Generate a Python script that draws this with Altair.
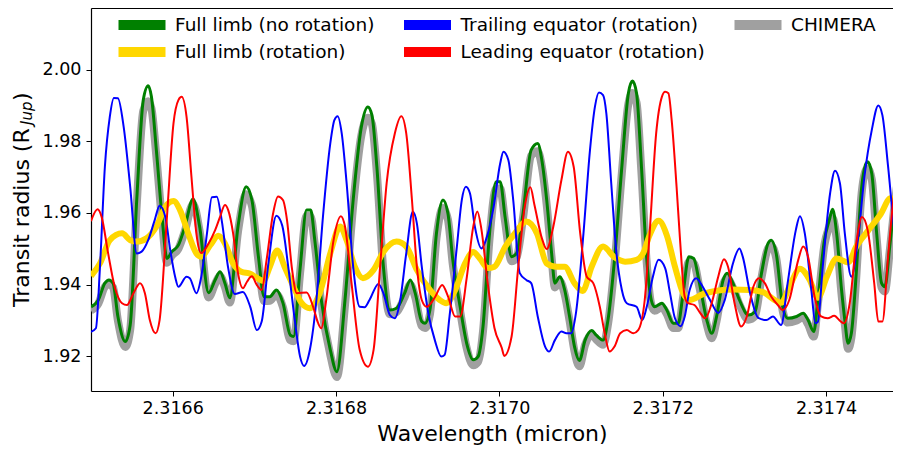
import altair as alt
import pandas as pd

# ---- data ----
green_wl = [2.316500, 2.316509, 2.316517, 2.316522, 2.316527, 2.316533, 2.316542, 2.316548, 2.316556, 2.316564,
            2.316570, 2.316574, 2.316580, 2.316587, 2.316593, 2.316599, 2.316607, 2.316615, 2.316625, 2.316633,
            2.316644, 2.316652, 2.316658, 2.316664, 2.316670, 2.316680, 2.316690, 2.316697, 2.316705, 2.316712,
            2.316719, 2.316727, 2.316735, 2.316744, 2.316748, 2.316756, 2.316764, 2.316769, 2.316774, 2.316782,
            2.316793, 2.316801, 2.316811, 2.316821, 2.316831, 2.316839, 2.316844, 2.316850, 2.316858, 2.316866,
            2.316874, 2.316884, 2.316891, 2.316897, 2.316905, 2.316909, 2.316915, 2.316923, 2.316931, 2.316937,
            2.316943, 2.316952, 2.316960, 2.316968, 2.316974, 2.316980, 2.316988, 2.316996, 2.317001, 2.317007,
            2.317015, 2.317021, 2.317029, 2.317039, 2.317047, 2.317052, 2.317058, 2.317064, 2.317068, 2.317074,
            2.317080, 2.317086, 2.317092, 2.317098, 2.317105, 2.317113, 2.317119, 2.317127, 2.317133, 2.317141,
            2.317150, 2.317158, 2.317163, 2.317168, 2.317174, 2.317180, 2.317186, 2.317190, 2.317199, 2.317205,
            2.317213, 2.317219, 2.317225, 2.317232, 2.317238, 2.317245, 2.317254, 2.317260, 2.317266, 2.317274,
            2.317279, 2.317286, 2.317294, 2.317305, 2.317313, 2.317321, 2.317329, 2.317333, 2.317339, 2.317347,
            2.317353, 2.317364, 2.317372, 2.317378, 2.317385, 2.317390, 2.317398, 2.317404, 2.317408, 2.317413,
            2.317419, 2.317423, 2.317427, 2.317431, 2.317437, 2.317443, 2.317449, 2.317451, 2.317456, 2.317462,
            2.317468, 2.317472, 2.317478, 2.317484, 2.317491]
green_r = [1.9338, 1.9357, 1.9404, 1.9413, 1.9404, 1.9310, 1.9241, 1.9287, 1.9636, 1.9915,
           1.9955, 1.9924, 1.9776, 1.9589, 1.9473, 1.9492, 1.9510, 1.9562, 1.9639, 1.9562,
           1.9377, 1.9413, 1.9436, 1.9404, 1.9363, 1.9562, 1.9673, 1.9636, 1.9478, 1.9366,
           1.9366, 1.9385, 1.9349, 1.9259, 1.9255, 1.9444, 1.9608, 1.9608, 1.9524, 1.9357,
           1.9218, 1.9157, 1.9357, 1.9636, 1.9840, 1.9896, 1.9873, 1.9729, 1.9450, 1.9329,
           1.9334, 1.9376, 1.9413, 1.9376, 1.9297, 1.9292, 1.9329, 1.9543, 1.9636, 1.9599,
           1.9469, 1.9338, 1.9236, 1.9190, 1.9199, 1.9283, 1.9543, 1.9687, 1.9687, 1.9589,
           1.9478, 1.9487, 1.9599, 1.9776, 1.9794, 1.9748, 1.9636, 1.9487, 1.9404, 1.9422,
           1.9385, 1.9311, 1.9227, 1.9188, 1.9245, 1.9272, 1.9258, 1.9245, 1.9301, 1.9469,
           1.9729, 1.9934, 1.9968, 1.9934, 1.9729, 1.9487, 1.9357, 1.9338, 1.9348, 1.9329,
           1.9292, 1.9292, 1.9376, 1.9478, 1.9473, 1.9404, 1.9301, 1.9264, 1.9311, 1.9413,
           1.9432, 1.9404, 1.9357, 1.9315, 1.9324, 1.9432, 1.9515, 1.9524, 1.9487, 1.9338,
           1.9306, 1.9311, 1.9320, 1.9301, 1.9269, 1.9357, 1.9524, 1.9580, 1.9610, 1.9543,
           1.9385, 1.9301, 1.9236, 1.9264, 1.9432, 1.9655, 1.9738, 1.9743, 1.9710, 1.9543,
           1.9404, 1.9394, 1.9506, 1.9636, 1.9757]
chimera_r = [1.9328, 1.9347, 1.9394, 1.9401, 1.9392, 1.9299, 1.9226, 1.9274, 1.9622, 1.9885,
             1.9912, 1.9892, 1.9758, 1.9577, 1.9461, 1.9481, 1.9500, 1.9550, 1.9625, 1.9550,
             1.9364, 1.9402, 1.9424, 1.9393, 1.9350, 1.9548, 1.9652, 1.9620, 1.9466, 1.9354,
             1.9355, 1.9373, 1.9337, 1.9245, 1.9242, 1.9432, 1.9592, 1.9590, 1.9512, 1.9345,
             1.9204, 1.9142, 1.9343, 1.9620, 1.9816, 1.9866, 1.9848, 1.9712, 1.9438, 1.9317,
             1.9323, 1.9365, 1.9400, 1.9364, 1.9284, 1.9279, 1.9317, 1.9529, 1.9614, 1.9582,
             1.9456, 1.9326, 1.9223, 1.9175, 1.9185, 1.9270, 1.9529, 1.9668, 1.9668, 1.9576,
             1.9465, 1.9475, 1.9586, 1.9760, 1.9772, 1.9730, 1.9622, 1.9475, 1.9392, 1.9410,
             1.9373, 1.9299, 1.9214, 1.9172, 1.9232, 1.9261, 1.9246, 1.9232, 1.9289, 1.9456,
             1.9712, 1.9905, 1.9935, 1.9908, 1.9712, 1.9475, 1.9345, 1.9327, 1.9337, 1.9318,
             1.9279, 1.9279, 1.9364, 1.9463, 1.9460, 1.9392, 1.9289, 1.9250, 1.9299, 1.9401,
             1.9418, 1.9392, 1.9345, 1.9302, 1.9312, 1.9420, 1.9501, 1.9508, 1.9474, 1.9326,
             1.9294, 1.9300, 1.9309, 1.9289, 1.9255, 1.9345, 1.9511, 1.9563, 1.9585, 1.9527,
             1.9373, 1.9289, 1.9221, 1.9251, 1.9420, 1.9641, 1.9721, 1.9724, 1.9694, 1.9530,
             1.9392, 1.9381, 1.9494, 1.9623, 1.9743]

gold_wl = [2.316500, 2.316511, 2.316523, 2.316538, 2.316548, 2.316556, 2.316568, 2.316580, 2.316591, 2.316601,
           2.316609, 2.316619, 2.316629, 2.316635, 2.316646, 2.316656, 2.316664, 2.316674, 2.316684, 2.316695,
           2.316705, 2.316711, 2.316719, 2.316728, 2.316737, 2.316748, 2.316758, 2.316768, 2.316780, 2.316793,
           2.316805, 2.316813, 2.316823, 2.316833, 2.316846, 2.316858, 2.316874, 2.316886, 2.316899, 2.316915,
           2.316927, 2.316935, 2.316946, 2.316958, 2.316968, 2.316976, 2.316986, 2.316994, 2.317007, 2.317019,
           2.317033, 2.317046, 2.317058, 2.317070, 2.317080, 2.317092, 2.317102, 2.317113, 2.317127, 2.317141,
           2.317154, 2.317168, 2.317176, 2.317184, 2.317195, 2.317205, 2.317215, 2.317225, 2.317233, 2.317250,
           2.317266, 2.317286, 2.317307, 2.317323, 2.317337, 2.317345, 2.317356, 2.317368, 2.317380, 2.317390,
           2.317401, 2.317413, 2.317427, 2.317437, 2.317452, 2.317467, 2.317479, 2.317491]
gold_r = [1.9424, 1.9459, 1.9524, 1.9543, 1.9524, 1.9520, 1.9529, 1.9562, 1.9617, 1.9633,
          1.9608, 1.9543, 1.9487, 1.9478, 1.9510, 1.9536, 1.9515, 1.9459, 1.9436, 1.9430,
          1.9416, 1.9410, 1.9450, 1.9495, 1.9450, 1.9394, 1.9348, 1.9334, 1.9376, 1.9487,
          1.9562, 1.9524, 1.9450, 1.9418, 1.9441, 1.9491, 1.9520, 1.9506, 1.9441, 1.9385,
          1.9357, 1.9348, 1.9385, 1.9459, 1.9491, 1.9473, 1.9446, 1.9450, 1.9505, 1.9543,
          1.9576, 1.9543, 1.9459, 1.9450, 1.9450, 1.9404, 1.9382, 1.9450, 1.9506, 1.9476,
          1.9464, 1.9469, 1.9487, 1.9538, 1.9578, 1.9538, 1.9450, 1.9376, 1.9357, 1.9374,
          1.9383, 1.9386, 1.9385, 1.9379, 1.9357, 1.9349, 1.9399, 1.9444, 1.9413, 1.9363,
          1.9422, 1.9473, 1.9462, 1.9506, 1.9552, 1.9597, 1.9641, 1.9627]

blue_wl = [2.316500, 2.316506, 2.316511, 2.316517, 2.316523, 2.316528, 2.316533, 2.316540, 2.316548, 2.316556,
           2.316562, 2.316570, 2.316578, 2.316584, 2.316591, 2.316597, 2.316603, 2.316607, 2.316617, 2.316621,
           2.316629, 2.316635, 2.316642, 2.316648, 2.316654, 2.316660, 2.316668, 2.316676, 2.316686, 2.316695,
           2.316703, 2.316709, 2.316717, 2.316727, 2.316734, 2.316742, 2.316750, 2.316756, 2.316761, 2.316768,
           2.316776, 2.316784, 2.316793, 2.316798, 2.316802, 2.316807, 2.316813, 2.316821, 2.316829, 2.316835,
           2.316841, 2.316852, 2.316858, 2.316866, 2.316872, 2.316878, 2.316886, 2.316894, 2.316899, 2.316905,
           2.316913, 2.316921, 2.316929, 2.316933, 2.316939, 2.316948, 2.316954, 2.316959, 2.316964, 2.316970,
           2.316978, 2.316986, 2.316993, 2.317001, 2.317005, 2.317011, 2.317017, 2.317025, 2.317033, 2.317039,
           2.317047, 2.317056, 2.317061, 2.317068, 2.317076, 2.317082, 2.317088, 2.317094, 2.317103, 2.317111,
           2.317117, 2.317122, 2.317127, 2.317131, 2.317137, 2.317143, 2.317150, 2.317156, 2.317168, 2.317175,
           2.317181, 2.317188, 2.317195, 2.317203, 2.317209, 2.317215, 2.317222, 2.317227, 2.317233, 2.317241,
           2.317249, 2.317258, 2.317268, 2.317276, 2.317286, 2.317294, 2.317298, 2.317307, 2.317317, 2.317327,
           2.317335, 2.317345, 2.317353, 2.317363, 2.317368, 2.317374, 2.317382, 2.317387, 2.317390, 2.317396,
           2.317405, 2.317411, 2.317417, 2.317423, 2.317431, 2.317439, 2.317447, 2.317456, 2.317464, 2.317469,
           2.317476, 2.317484, 2.317491]
blue_r = [1.9268, 1.9278, 1.9450, 1.9729, 1.9868, 1.9921, 1.9920, 1.9840, 1.9673, 1.9487,
          1.9492, 1.9524, 1.9580, 1.9620, 1.9589, 1.9497, 1.9422, 1.9394, 1.9422, 1.9418,
          1.9376, 1.9422, 1.9543, 1.9644, 1.9645, 1.9580, 1.9446, 1.9374, 1.9379, 1.9338,
          1.9273, 1.9297, 1.9455, 1.9592, 1.9566, 1.9441, 1.9292, 1.9199, 1.9173, 1.9218,
          1.9357, 1.9589, 1.9794, 1.9859, 1.9870, 1.9822, 1.9683, 1.9450, 1.9338, 1.9337,
          1.9357, 1.9402, 1.9376, 1.9315, 1.9306, 1.9348, 1.9487, 1.9603, 1.9571, 1.9450,
          1.9320, 1.9245, 1.9199, 1.9204, 1.9311, 1.9506, 1.9636, 1.9673, 1.9655, 1.9562,
          1.9501, 1.9543, 1.9617, 1.9738, 1.9771, 1.9748, 1.9636, 1.9432, 1.9413, 1.9404,
          1.9311, 1.9227, 1.9213, 1.9245, 1.9269, 1.9264, 1.9264, 1.9324, 1.9543, 1.9776,
          1.9896, 1.9936, 1.9929, 1.9878, 1.9683, 1.9497, 1.9385, 1.9348, 1.9338, 1.9301,
          1.9343, 1.9422, 1.9469, 1.9446, 1.9376, 1.9306, 1.9284, 1.9311, 1.9385, 1.9418,
          1.9394, 1.9357, 1.9321, 1.9357, 1.9459, 1.9501, 1.9478, 1.9376, 1.9307, 1.9301,
          1.9311, 1.9287, 1.9404, 1.9552, 1.9591, 1.9543, 1.9385, 1.9292, 1.9296, 1.9450,
          1.9655, 1.9718, 1.9683, 1.9543, 1.9422, 1.9524, 1.9701, 1.9831, 1.9900, 1.9873,
          1.9729, 1.9543, 1.9446]

red_wl = [2.316500, 2.316508, 2.316513, 2.316521, 2.316529, 2.316538, 2.316544, 2.316552, 2.316560, 2.316566,
          2.316572, 2.316579, 2.316584, 2.316593, 2.316601, 2.316607, 2.316611, 2.316617, 2.316623, 2.316629,
          2.316635, 2.316644, 2.316652, 2.316658, 2.316664, 2.316668, 2.316674, 2.316680, 2.316686, 2.316691,
          2.316697, 2.316703, 2.316709, 2.316715, 2.316723, 2.316729, 2.316735, 2.316740, 2.316746, 2.316752,
          2.316764, 2.316772, 2.316778, 2.316782, 2.316788, 2.316797, 2.316806, 2.316811, 2.316819, 2.316829,
          2.316839, 2.316846, 2.316854, 2.316862, 2.316872, 2.316880, 2.316886, 2.316893, 2.316899, 2.316905,
          2.316911, 2.316921, 2.316930, 2.316937, 2.316946, 2.316952, 2.316960, 2.316968, 2.316973, 2.316978,
          2.316986, 2.316994, 2.317003, 2.317006, 2.317015, 2.317023, 2.317031, 2.317038, 2.317043, 2.317052,
          2.317058, 2.317066, 2.317076, 2.317084, 2.317091, 2.317099, 2.317107, 2.317115, 2.317123, 2.317129,
          2.317135, 2.317141, 2.317148, 2.317156, 2.317164, 2.317170, 2.317178, 2.317184, 2.317192, 2.317199,
          2.317203, 2.317207, 2.317211, 2.317217, 2.317221, 2.317227, 2.317231, 2.317239, 2.317245, 2.317252,
          2.317260, 2.317268, 2.317275, 2.317280, 2.317288, 2.317296, 2.317303, 2.317311, 2.317318, 2.317325,
          2.317333, 2.317341, 2.317347, 2.317355, 2.317366, 2.317372, 2.317378, 2.317386, 2.317394, 2.317402,
          2.317410, 2.317418, 2.317422, 2.317429, 2.317437, 2.317444, 2.317451, 2.317459, 2.317464, 2.317469,
          2.317476, 2.317482, 2.317488, 2.317491]
red_r = [1.9577, 1.9610, 1.9589, 1.9487, 1.9394, 1.9348, 1.9343, 1.9376, 1.9404, 1.9376,
         1.9301, 1.9264, 1.9301, 1.9589, 1.9850, 1.9915, 1.9924, 1.9868, 1.9701, 1.9543,
         1.9488, 1.9515, 1.9552, 1.9589, 1.9622, 1.9608, 1.9543, 1.9432, 1.9390, 1.9408,
         1.9423, 1.9399, 1.9385, 1.9469, 1.9599, 1.9646, 1.9636, 1.9580, 1.9446, 1.9376,
         1.9378, 1.9338, 1.9293, 1.9278, 1.9357, 1.9524, 1.9591, 1.9562, 1.9404, 1.9218,
         1.9171, 1.9218, 1.9450, 1.9683, 1.9822, 1.9870, 1.9822, 1.9636, 1.9450, 1.9357,
         1.9338, 1.9364, 1.9399, 1.9368, 1.9311, 1.9311, 1.9418, 1.9561, 1.9604, 1.9555,
         1.9399, 1.9279, 1.9223, 1.9201, 1.9255, 1.9446, 1.9616, 1.9672, 1.9622, 1.9530,
         1.9499, 1.9561, 1.9692, 1.9771, 1.9729, 1.9543, 1.9422, 1.9404, 1.9338, 1.9264,
         1.9213, 1.9227, 1.9264, 1.9273, 1.9264, 1.9273, 1.9357, 1.9543, 1.9822, 1.9924,
         1.9938, 1.9934, 1.9859, 1.9673, 1.9533, 1.9366, 1.9348, 1.9343, 1.9324, 1.9306,
         1.9348, 1.9422, 1.9471, 1.9450, 1.9348, 1.9283, 1.9311, 1.9394, 1.9418, 1.9404,
         1.9366, 1.9343, 1.9329, 1.9357, 1.9469, 1.9506, 1.9478, 1.9366, 1.9311, 1.9306,
         1.9313, 1.9297, 1.9292, 1.9348, 1.9515, 1.9589, 1.9552, 1.9404, 1.9297, 1.9297,
         1.9478, 1.9627, 1.9711, 1.9720]

# legend order (column by column, as in the reference)
series_names = ["Full limb (no rotation)", "Full limb (rotation)",
                "Trailing equator (rotation)", "Leading equator (rotation)", "CHIMERA"]
series_colors = ["#008000", "#ffd700", "#0000ff", "#ff0000", "#a0a0a0"]
x_ticks = [2.3166, 2.3168, 2.3170, 2.3172, 2.3174]
y_ticks = [1.92, 1.94, 1.96, 1.98, 2.00]
x_domain = [2.3165, 2.317482]
y_domain = [1.9103, 2.0172]


def frame(wl, r, name):
    return pd.DataFrame({"wl": wl, "r": r, "series": name})


df_chimera = frame(green_wl, chimera_r, "CHIMERA")
df_green = frame(green_wl, green_r, "Full limb (no rotation)")
df_gold = frame(gold_wl, gold_r, "Full limb (rotation)")
df_blue = frame(blue_wl, blue_r, "Trailing equator (rotation)")
df_red = frame(red_wl, red_r, "Leading equator (rotation)")

FONT = "DejaVu Sans"
x_scale = alt.Scale(domain=x_domain, nice=False, zero=False)

bottom_axis = alt.Axis(orient="bottom", values=x_ticks, format=".4f", title="Wavelength (micron)",
                       labelFontSize=17.5, titleFontSize=22, titleFontWeight="normal",
                       labelFont=FONT, titleFont=FONT, labelColor="black", titleColor="black",
                       tickColor="black", domainColor="black", domainWidth=1.2, tickSize=5,
                       labelPadding=3, titlePadding=7, grid=False, labelFlush=False)
top_axis = alt.Axis(orient="top", labels=False, ticks=False, domain=True, domainColor="black",
                    domainWidth=1.2, title=None, grid=False)

y_enc = alt.Y("r:Q", scale=alt.Scale(domain=y_domain, nice=False, zero=False),
              axis=alt.Axis(values=y_ticks, format=".2f", title=None,
                            labelFontSize=17.5, labelFont=FONT, labelColor="black",
                            tickColor="black", domainColor="black", domainWidth=1.2, tickSize=5,
                            labelPadding=5, grid=False, labelFlush=False))
color_enc = alt.Color("series:N",
                      scale=alt.Scale(domain=series_names, range=series_colors),
                      legend=alt.Legend(orient="none", legendX=27, legendY=7, columns=3,
                                        columnPadding=28.5, rowPadding=7, clipHeight=20, title=None,
                                        gridAlign="each",
                                        symbolType="M-4.7,0H4.7", symbolSize=100, symbolStrokeWidth=10,
                                        symbolOffset=14,
                                        labelFontSize=18.5, labelFont=FONT, labelColor="black",
                                        labelOffset=23, labelLimit=400, padding=0,
                                        symbolOpacity=1))


def line_layer(df, width, axis):
    return alt.Chart(df).mark_line(strokeWidth=width, clip=True, interpolate="monotone").encode(
        x=alt.X("wl:Q", scale=x_scale, axis=axis), y=y_enc, color=color_enc,
        order=alt.Order("wl:Q"))


layers = [
    line_layer(df_chimera, 8, bottom_axis),
    line_layer(df_green, 3, top_axis),
    line_layer(df_gold, 6, None),
    line_layer(df_blue, 2, None),
    line_layer(df_red, 2, None),
]

one = pd.DataFrame({"k": [0]})
title_main = alt.Chart(one).mark_text(text="Transit radius (R", angle=270, align="left",
                                      baseline="middle", fontSize=22, font=FONT, color="black").encode(
    x=alt.value(-69), y=alt.value(299))
title_sub = alt.Chart(one).mark_text(text="Jup", angle=270, align="left", baseline="middle",
                                     fontSize=15, font=FONT, fontStyle="italic", color="black").encode(
    x=alt.value(-64), y=alt.value(117))
title_end = alt.Chart(one).mark_text(text=")", angle=270, align="left", baseline="middle",
                                     fontSize=22, font=FONT, color="black").encode(
    x=alt.value(-69), y=alt.value(93))

chart = alt.layer(*layers, title_main, title_sub, title_end).resolve_axis(
    x="independent"
).properties(
    width=802, height=383,
    autosize=alt.AutoSizeParams(type="none"),
    padding={"left": 83, "top": 0, "right": 0, "bottom": 60},
).configure_view(stroke=None).configure(background="white")

chart.save("out.html", embed_options={"renderer": "svg", "actions": False})
